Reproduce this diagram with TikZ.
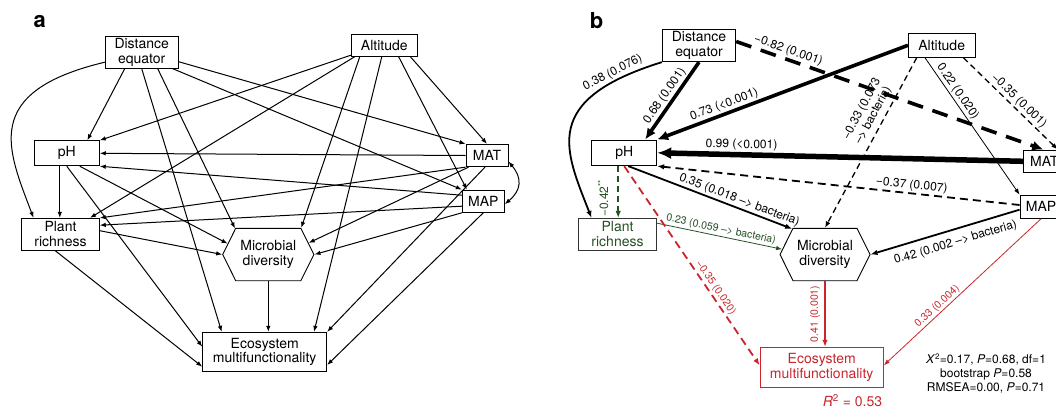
\documentclass[tikz,border=0pt]{standalone}
\usepackage{fontspec}
\setmainfont{TeX Gyre Heros}
\usetikzlibrary{positioning,arrows.meta,shapes.symbols}
\definecolor{semred}{RGB}{200,38,44}
\definecolor{semgreen}{RGB}{38,80,38}
\tikzset{
  box/.style={draw, line width=0.9pt, align=center, inner sep=0pt, font=\fontsize{14}{14.5}\selectfont},
  hexbox/.style={box, signal, signal to=east and west, signal pointer angle=127},
  panel/.style={font=\fontsize{22}{22}\selectfont\bfseries},
  lab/.style={font=\fontsize{12}{13}\selectfont, inner sep=1.5pt, sloped},
  smalllab/.style={font=\fontsize{10.5}{11.5}\selectfont, inner sep=1.5pt, sloped},
  uplab/.style={rotate=90, anchor=south},
  arr/.style={line width=1pt, -{Latex[length=6pt,width=4.5pt]}},
  dblarr/.style={line width=1pt, {Latex[length=6pt,width=4.5pt]}-{Latex[length=6pt,width=4.5pt]}},
  thinarr/.style={line width=0.8pt, -{Latex[length=6pt,width=4.5pt]}},
  lightarr/.style={line width=1.3pt, -{Latex[length=6.5pt,width=5pt]}},
  midarr/.style={line width=1.8pt, -{Latex[length=7pt,width=5.5pt]}},
  bigarr/.style={line width=3.6pt, -{Latex[length=11pt,width=10pt]}},
  hugearr/.style={line width=5.5pt, -{Latex[length=14pt,width=12pt]}},
  shortdash/.style={dash pattern=on 6pt off 4pt},
  meddash/.style={dash pattern=on 8pt off 5pt},
  longdash/.style={dash pattern=on 16pt off 10pt}
}
\begin{document}
\begin{tikzpicture}[x=1pt,y=-1pt]
\useasboundingbox (0,0) rectangle (1056,407);
\clip (0,0) rectangle (1056,407);

\node[panel] (taga) at (39.7,22) {a};
\node[box, minimum width=73pt, minimum height=32pt] (dista) at (141.7,52.2) {Distance\\equator};
\node[box, minimum width=66pt, minimum height=22pt] (alta) at (384.3,45.2) {Altitude};
\node[box, minimum width=65pt, minimum height=25pt] (pha) at (66.8,153.3) {pH};
\node[box, minimum width=42pt, minimum height=22.4pt] (mata) at (487,155.5) {MAT};
\node[box, minimum width=42pt, minimum height=22.3pt] (mapa) at (483.3,201.2) {MAP};
\node[box, minimum width=77.6pt, minimum height=31.7pt] (planta) at (60.5,234.2) {Plant\\richness};
\node[hexbox, minimum width=91.3pt, minimum height=52.4pt] (microa) at (268.3,254.5) {Microbial\\diversity};
\node[box, minimum width=124pt, minimum height=39.4pt] (ecoa) at (264.7,352) {Ecosystem\\multifunctionality};

\draw[arr] ([yshift=-10pt]dista.west) .. controls (-20,92) and (8,150) .. ([xshift=-27pt]planta.north);
\draw[arr] ([xshift=-17pt]dista.south) -- ([xshift=20.5pt]pha.north);
\draw[arr] (dista.south) -- ([xshift=-43pt]ecoa.north);
\draw[arr] ([xshift=16pt]dista.south) -- (microa.142);
\draw[arr] ([yshift=-9.5pt]dista.east) -- (mata.north west);
\draw[arr] ([xshift=-6pt]dista.south east) -- (mapa.north west);
\draw[arr] ([yshift=-10pt]alta.west) -- (pha.north east);
\draw[arr] ([xshift=-29.5pt]alta.south) -- ([xshift=29.5pt]planta.north);
\draw[arr] ([xshift=-24.5pt]alta.south) -- (microa.39);
\draw[arr] ([xshift=-2.5pt]alta.south) -- ([xshift=49.3pt]ecoa.north);
\draw[arr] ([xshift=14.3pt]alta.south) -- ([xshift=5pt]mapa.north west);
\draw[arr] ([xshift=26pt]alta.south) -- (mata.north);
\draw[arr] (mata.west) -- (pha.east);
\draw[arr] (mata.south west) -- (planta.north east);
\draw[arr] ([xshift=3pt]mata.south west) -- (microa.16);
\draw[arr] ([xshift=-2pt]mata.south) -- (ecoa.north east);
\draw[dblarr] ([yshift=-6pt]mata.east) to[out=-50,in=40,looseness=1.3] ([yshift=-3pt]mapa.east);
\draw[arr] ([yshift=6pt]mapa.west) -- (pha.south east);
\draw[arr] ([yshift=-5pt]mapa.west) -- ([yshift=9pt]planta.east);
\draw[arr] (mapa.south west) -- (microa.east);
\draw[arr] (mapa.south) -- ([yshift=-13pt]ecoa.east);
\draw[arr] ([xshift=-7pt]pha.south) -- ([xshift=-7pt]pha.south |- planta.north);
\draw[arr] (pha.south) -- ([yshift=5.3pt]ecoa.west);
\draw[arr] ([xshift=13pt]pha.south) -- (microa.165);
\draw[arr] ([yshift=3.5pt]planta.east) -- (microa.west);
\draw[arr] ([xshift=-5.5pt]planta.south) -- ([yshift=-14.7pt]ecoa.west);
\draw[arr] (microa.south) -- (microa.south |- ecoa.north);

\node[panel] (tagb) at (596.7,20.8) {b};
\node[box, minimum width=73.4pt, minimum height=32.4pt] (distb) at (699,45.5) {Distance\\equator};
\node[box, minimum width=66.7pt, minimum height=24pt] (altb) at (941.7,45.3) {Altitude};
\node[box, minimum width=65pt, minimum height=25.7pt] (phb) at (624.2,152.8) {pH};
\node[box, minimum width=42pt, minimum height=22.7pt] (matb) at (1044.3,161.3) {MAT};
\node[box, minimum width=42pt, minimum height=23.3pt] (mapb) at (1041,206.7) {MAP};
\node[box, draw=black!80, text=semgreen, minimum width=78.4pt, minimum height=31.7pt] (plantb) at (617.5,234.2) {Plant\\richness};
\node[hexbox, minimum width=90pt, minimum height=52.4pt] (microb) at (825,254.5) {Microbial\\diversity};
\node[box, draw=semred, text=semred, minimum width=123.3pt, minimum height=40pt] (ecob) at (821.7,367.3) {Ecosystem\\multifunctionality};
\node[text=semred, font=\fontsize{14}{14}\selectfont, anchor=base] (rsq) at (852.5,406.7) {\textit{R}\textsuperscript{2} = 0.53};
\node[font=\fontsize{12}{14}\selectfont, align=center] (fit) at (986,373.5) {\textit{X}\textsuperscript{2}=0.17, \textit{P}=0.68, df=1\\bootstrap \textit{P}=0.58\\RMSEA=0.00, \textit{P}=0.71};

\draw[midarr] (distb.south west) .. controls (540,100) and (565,150) .. ([xshift=-26pt]plantb.north) node[lab, pos=0.15, above] {0.38 (0.076)};
\draw[bigarr] (distb.south) -- ([xshift=21pt]phb.north) node[lab, pos=0.5, above] {0.68 (0.001)};
\draw[bigarr] (altb.west) -- (phb.north east) node[lab, pos=0.72, above] {0.73 (<0.001)};
\draw[hugearr] (matb.west) -- (phb.east) node[lab, pos=0.77, above] {0.99 (<0.001)};
\draw[bigarr, longdash] ([yshift=4pt]distb.east) -- ([xshift=-1pt]matb.north) node[lab, pos=0.16, above] {−0.82 (0.001)};
\draw[lightarr, shortdash] ([xshift=-25pt]altb.south) -- (microb.north) node[lab, pos=0.37, above=3pt, align=center] {−0.33 (0.073\\--> bacteria)};
\draw[thinarr] ([xshift=-16.7pt]altb.south) -- (mapb.north west) node[lab, pos=0.28, above] {0.22 (0.020)};
\draw[lightarr, shortdash] ([xshift=21.7pt]altb.south) -- ([xshift=-8pt]matb.north east) node[lab, pos=0.53, above] {−0.35 (0.001)};
\draw[midarr, meddash] ([yshift=1.7pt]mapb.west) -- (phb.south east) node[lab, pos=0.3, above] {−0.37 (0.007)};
\draw[midarr] ([xshift=4pt]phb.south) -- (microb.142) node[lab, pos=0.66, above] {0.35 (0.018 --> bacteria)};
\draw[midarr, semgreen, shortdash] ([xshift=-6pt]phb.south) -- ([xshift=-6pt]phb.south |- plantb.north) node[uplab, pos=0.62, inner sep=9pt, font=\fontsize{12}{13}\selectfont] {−0.42\textsuperscript{**}};
\draw[thinarr, semgreen] ([yshift=11pt]plantb.east) -- (microb.173) node[smalllab, pos=0.5, above] {0.23 (0.059 --> bacteria)};
\draw[midarr] ([yshift=-3pt]mapb.west) -- (microb.east) node[lab, pos=0.455, below=5pt] {0.42 (0.002 --> bacteria)};
\draw[midarr, semred] (microb.south) -- (microb.south |- ecob.north) node[uplab, pos=0.5, inner sep=4pt, font=\fontsize{10.5}{11.5}\selectfont] {0.41 (0.001)};
\draw[midarr, semred, meddash] (phb.south) -- ([yshift=2pt]ecob.west) node[smalllab, pos=0.63, above] {−0.35 (0.020)};
\draw[thinarr, semred] (mapb.south) -- ([yshift=2pt]ecob.east) node[smalllab, pos=0.63, above] {0.33 (0.004)};
\end{tikzpicture}
\end{document}
